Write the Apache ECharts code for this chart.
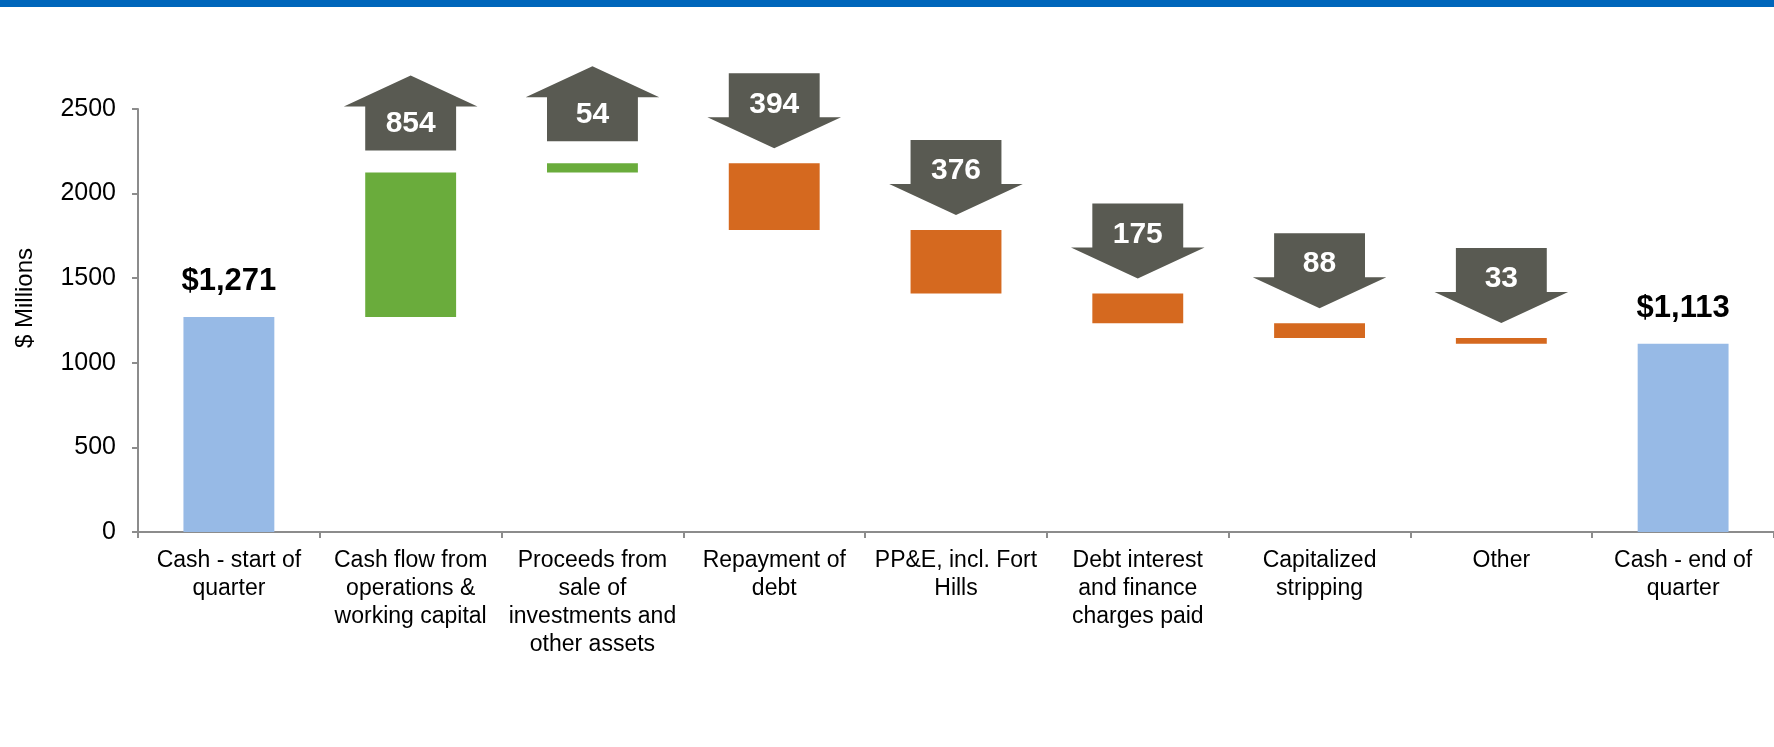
<!DOCTYPE html>
<html>
<head>
<meta charset="utf-8">
<script src="https://cdn.jsdelivr.net/npm/echarts@6/dist/echarts.min.js"></script>
<style>
  html, body { margin: 0; padding: 0; background: #fff; }
  #main { width: 1774px; height: 747px; }
</style>
</head>
<body>
<div id="main"></div>
<script>
var categories = [
  'Cash - start of\nquarter',
  'Cash flow from\noperations &\nworking capital',
  'Proceeds from\nsale of\ninvestments and\nother assets',
  'Repayment of\ndebt',
  'PP&E, incl. Fort\nHills',
  'Debt interest\nand finance\ncharges paid',
  'Capitalized\nstripping',
  'Other',
  'Cash - end of\nquarter'
];
var startCash = 1271;
var endCash = 1113;
var changes = [854, 54, -394, -376, -175, -88, -33];
var totalLabels = ['$1,271', '$1,113'];

var FONT = '"Liberation Sans", Arial, sans-serif';
var BLUE = '#97BAE6', GREEN = '#6AAC3C', ORANGE = '#D5691F', ARROW = '#595A52';

// build the waterfall pieces from the values
var baseData = ['-'];
var valueData = [{ value: startCash, itemStyle: { color: BLUE },
  label: { show: true, formatter: totalLabels[0] } }];
var arrowData = [];
var running = startCash;
changes.forEach(function (c, k) {
  var low = Math.min(running, running + c);
  var high = Math.max(running, running + c);
  baseData.push(low);
  valueData.push({ value: Math.abs(c), itemStyle: { color: c > 0 ? GREEN : ORANGE } });
  arrowData.push([k + 1, high, c]);
  running += c;
});
baseData.push('-');
valueData.push({ value: endCash, itemStyle: { color: BLUE },
  label: { show: true, formatter: totalLabels[1] } });

var chartDom = document.getElementById('main');
var myChart = echarts.init(chartDom);

function renderArrow(params, api) {
  var i = api.value(0), top = api.value(1), c = api.value(2);
  var p = api.coord([i, top]);
  var bw = api.size([1, 0])[0] * 0.5;
  var ww = bw * 1.47;
  var x = p[0];
  var pts, ty, b, w, t;
  if (c > 0) {
    b = p[1] - 22;
    w = b - 44;
    t = w - 31;
    pts = [[x - bw / 2, b], [x - bw / 2, w], [x - ww / 2, w], [x, t],
           [x + ww / 2, w], [x + bw / 2, w], [x + bw / 2, b]];
    ty = b - 27;
  } else {
    t = p[1] - 15;
    w = t - 31;
    b = w - 44;
    pts = [[x - bw / 2, b], [x + bw / 2, b], [x + bw / 2, w], [x + ww / 2, w],
           [x, t], [x - ww / 2, w], [x - bw / 2, w]];
    ty = b + 31;
  }
  return {
    type: 'group',
    children: [
      { type: 'polygon', shape: { points: pts }, style: { fill: ARROW } },
      { type: 'text', style: { text: String(Math.abs(c)), x: x, y: ty,
          align: 'center', verticalAlign: 'middle', fill: '#fff',
          font: 'bold 30px ' + FONT } }
    ]
  };
}

var option = {
  animation: false,
  backgroundColor: '#fff',
  textStyle: { fontFamily: FONT },
  graphic: [
    { type: 'rect', left: 0, top: 0, shape: { width: 1774, height: 7 },
      style: { fill: '#0066BB' } },
    { type: 'text', x: 25, y: 298, rotation: Math.PI / 2,
      style: { text: '$ Millions', font: '24px ' + FONT, fill: '#000',
        align: 'center', verticalAlign: 'middle' } }
  ],
  grid: { left: 138, right: 0, top: 109, bottom: 215 },
  xAxis: {
    type: 'category',
    data: categories,
    axisLine: { lineStyle: { color: '#8C8C8C', width: 2 } },
    axisTick: { show: true, length: 6, lineStyle: { color: '#8C8C8C', width: 2 } },
    axisLabel: { color: '#000', fontSize: 23, lineHeight: 28, margin: 15,
      interval: 0, fontFamily: FONT }
  },
  yAxis: {
    type: 'value',
    min: 0,
    max: 2500,
    interval: 500,
    splitLine: { show: false },
    axisLine: { show: true, lineStyle: { color: '#8C8C8C', width: 2 } },
    axisTick: { show: true, length: 6, lineStyle: { color: '#8C8C8C', width: 2 } },
    axisLabel: { color: '#000', fontSize: 25, margin: 22, fontFamily: FONT,
      formatter: function (v) { return String(v); } }
  },
  series: [
    {
      name: 'base', type: 'bar', stack: 'w', barWidth: '50%',
      itemStyle: { color: 'transparent' },
      emphasis: { disabled: true },
      data: baseData
    },
    {
      name: 'value', type: 'bar', stack: 'w', barWidth: '50%',
      label: { show: false, position: 'top', distance: 20, color: '#000',
        fontSize: 31, fontWeight: 'bold', fontFamily: FONT },
      data: valueData
    },
    {
      name: 'arrows', type: 'custom',
      renderItem: renderArrow,
      data: arrowData,
      z: 5
    }
  ]
};

option && myChart.setOption(option);
</script>
</body>
</html>
